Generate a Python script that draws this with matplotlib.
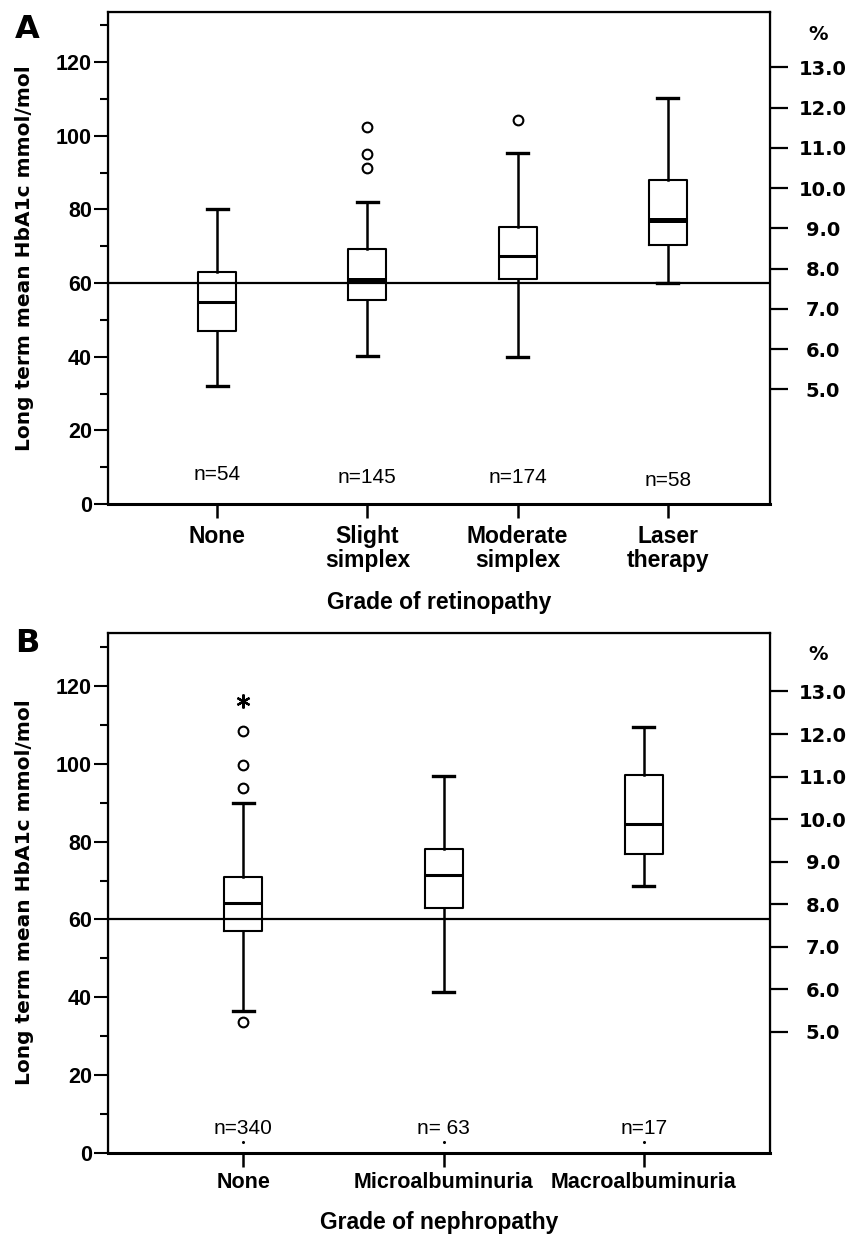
import numpy as np
import matplotlib
matplotlib.use("Agg")
from matplotlib import pyplot as plt
from matplotlib.ticker import MultipleLocator

# --- data ---
# panel A: grade of retinopathy
cats_a = ["None", "Slight\nsimplex", "Moderate\nsimplex", "Laser\ntherapy"]
n_a = [54, 145, 174, 58]
whislo_a = [32.1, 40.3, 40.0, 60.1]
q1_a = [47.1, 55.4, 61.2, 70.4]
med_a = [54.8, 60.9, 67.4, 77.2]
q3_a = [63.1, 69.3, 75.2, 88.0]
whishi_a = [80.2, 82.1, 95.3, 110.2]
fliers_a = [[], [91.2, 95.1, 102.3], [104.2], []]

# panel B: grade of nephropathy
cats_b = ["None", "Microalbuminuria", "Macroalbuminuria"]
n_b = ["n=340", "n= 63", "n=17"]
whislo_b = [36.4, 41.4, 68.5]
q1_b = [57.0, 63.0, 76.7]
med_b = [64.3, 71.3, 84.5]
q3_b = [71.0, 78.1, 97.1]
whishi_b = [90.0, 96.8, 109.5]
fliers_b = [[33.7, 93.7, 99.7, 108.3], [], []]
extremes_b = [[116.2], [], []]

target = 60
pct_ticks = [5.0, 6.0, 7.0, 8.0, 9.0, 10.0, 11.0, 12.0, 13.0]

ARIAL = ["Liberation Sans", "DejaVu Sans"]
W, H = 849, 1235


def fx(px):
    return px / W


def fy(py):
    return 1 - py / H


def panel(rect, cats, whislo, q1, med, q3, whishi, fliers, xlim, thick_meds,
          pad_x, cat_size):
    ax = fig.add_axes(rect)
    stats = []
    for i in range(len(cats)):
        stats.append(dict(whislo=whislo[i], q1=q1[i], med=med[i], q3=q3[i],
                          whishi=whishi[i], fliers=fliers[i]))
    pos = np.arange(1, len(cats) + 1)
    unit = 662 / (xlim[1] - xlim[0])   # pixels per category step
    bw = 38 / unit
    art = ax.bxp(stats, positions=pos, widths=bw,
                 boxprops=dict(color="black", linewidth=1.5),
                 whiskerprops=dict(color="black", linewidth=1.8),
                 capprops=dict(color="black", linewidth=2.4),
                 medianprops=dict(color="black", linewidth=2.2),
                 flierprops=dict(marker="o", markerfacecolor="white",
                                 markeredgecolor="black", markersize=7,
                                 markeredgewidth=1.5),
                 capwidths=0.55 * bw)
    for i in thick_meds:
        art["medians"][i].set_linewidth(3.6)
    ax.axhline(target, color="black", linewidth=1.6, zorder=0)
    ax.set_xlim(*xlim)
    ax.set_ylim(0, 133.6)
    ax.yaxis.set_major_locator(MultipleLocator(20))
    ax.yaxis.set_minor_locator(MultipleLocator(10))
    ax.tick_params(axis="y", which="major", length=10, width=1.5, pad=1.5,
                   labelsize=15.5)
    ax.tick_params(axis="y", which="minor", length=6, width=1.5)
    ax.tick_params(axis="x", length=10, width=1.8, pad=pad_x,
                   labelsize=cat_size)
    ax.set_xticks(pos)
    ax.set_xticklabels(cats, family=ARIAL, weight="bold", linespacing=1.05)
    for lbl in ax.get_yticklabels():
        lbl.set_family(ARIAL)
        lbl.set_weight("bold")
    for s in ax.spines.values():
        s.set_linewidth(1.6)
    ax.spines["bottom"].set_linewidth(2.2)

    ax2 = ax.twinx()
    ax2.set_ylim(ax.get_ylim())
    ax2.set_yticks([(p - 2.15) * 10.929 for p in pct_ticks])
    ax2.set_yticklabels(["%.1f" % p for p in pct_ticks], weight="bold",
                        fontsize=14)
    ax2.tick_params(axis="y", length=13, width=1.6, pad=25)
    for lbl in ax2.get_yticklabels():
        lbl.set_ha("center")
    return ax


fig = plt.figure(figsize=(W / 100, H / 100), dpi=100)

# ---- panel A ----
ax_a = panel([fx(108), fy(504), fx(770 - 108), (504 - 12) / H], cats_a,
             whislo_a, q1_a, med_a, q3_a, whishi_a, fliers_a,
             (0.273, 4.68), [1, 3], 5, 16.5)
for i, n in enumerate(n_a):
    ax_a.text(i + 1, [7.9, 7.3, 7.3, 6.5][i], "n=%d" % n, ha="center",
              va="center", fontsize=15, family=ARIAL)
fig.text(fx(27), fy(29), "A", fontsize=23, weight="bold", ha="center",
         va="center")
fig.text(fx(818), fy(35), "%", fontsize=14, weight="bold", ha="center",
         va="center")
fig.text(fx(25), fy(258), "Long term mean HbA1c mmol/mol", rotation=90,
         fontsize=14.5, weight="bold", ha="center", va="center")
fig.text(fx(439), fy(602), "Grade of retinopathy", fontsize=16.5,
         weight="bold", ha="center", va="center", family=ARIAL)

# ---- panel B ----
ax_b = panel([fx(108), fy(1153), fx(770 - 108), (1153 - 633) / H], cats_b,
             whislo_b, q1_b, med_b, q3_b, whishi_b, fliers_b,
             (0.325, 3.63), [], 4, 15.5)
for i, ys in enumerate(extremes_b):
    if ys:
        ax_b.plot([i + 1] * len(ys), ys, linestyle="none",
                  marker=(6, 2, 0), markersize=10, color="black",
                  markeredgewidth=1.6)
for i, n in enumerate(n_b):
    ax_b.text(i + 1, 6.2, n, ha="center", va="center", fontsize=15,
              family=ARIAL)
    ax_b.plot(i + 1, 2.9, marker="o", markersize=1.2, color="black")
fig.text(fx(27), fy(643), "B", fontsize=23, weight="bold", ha="center",
         va="center")
fig.text(fx(818), fy(655), "%", fontsize=14, weight="bold", ha="center",
         va="center")
fig.text(fx(25), fy(892), "Long term mean HbA1c mmol/mol", rotation=90,
         fontsize=14.5, weight="bold", ha="center", va="center")
fig.text(fx(439), fy(1223), "Grade of nephropathy", fontsize=16.5,
         weight="bold", ha="center", va="center", family=ARIAL)

fig.savefig("out.png", dpi=100)
